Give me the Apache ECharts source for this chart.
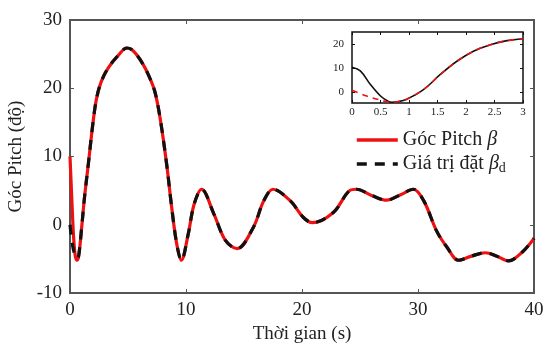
<!DOCTYPE html>
<html>
<head>
<meta charset="utf-8">
<script src="https://cdn.jsdelivr.net/npm/echarts@6/dist/echarts.min.js"></script>
<style>
  html, body { margin: 0; padding: 0; background: #fff; }
  #chart { width: 544px; height: 344px; }
</style>
</head>
<body>
<div id="chart"></div>
<script>
// main plot: time (s) and pitch (deg)
const pitchStart = [[0, 10], [0.15, 4], [0.3, -1.5], [0.45, -4.5], [0.6, -5.2], [0.75, -4.6]];
const setpointStart = [[0, 0], [0.15, -2.2], [0.3, -3.7], [0.45, -4.5], [0.6, -4.9], [0.75, -4.5]];
const pitchTail = [
  [1.0, -0.5], [1.25, 4.0], [1.58, 8.9], [2.0, 15.2], [2.3, 18.6], [2.7, 21.0],
  [3.3, 23.0], [4.2, 24.9], [4.9, 25.9], [5.3, 25.7], [5.75, 24.9], [6.3, 23.5],
  [6.75, 22.0], [7.3, 19.6], [7.76, 15.7], [8.33, 8.9], [8.77, 2.5], [9.2, -2.8],
  [9.6, -5.2], [10.2, -1.3], [10.7, 3.0], [11.35, 5.2], [12.4, 1.6], [13.4, -2.3],
  [14.4, -3.5], [15.8, -0.4], [16.7, 3.5], [17.5, 5.2], [19.0, 3.5], [20.1, 1.1],
  [20.9, 0.3], [22.7, 1.8], [24.1, 5.0], [24.7, 5.2], [26.0, 4.3], [27.3, 3.6],
  [28.5, 4.4], [29.6, 5.2], [30.5, 3.5], [31.6, -0.9], [32.5, -3.3], [33.5, -5.2],
  [34.6, -4.6], [35.8, -4.1], [36.8, -4.6], [37.8, -5.3], [39.0, -4.0], [40.0, -2.0]
];

// inset: zoom on 0..3 s
const insetPitch = [
  [0, 10.3], [0.15, 8.7], [0.32, 3.2], [0.5, -1.7], [0.64, -4.0], [0.7, -4.3],
  [0.8, -4.1], [0.96, -3.0], [1.26, 1.1], [1.55, 7.3], [1.84, 12.8], [2.13, 17.0],
  [2.43, 19.7], [2.72, 21.4], [3.0, 22.2]
];
const insetSetpoint = [
  [0, 0.7], [0.26, -1.7], [0.5, -3.4], [0.64, -4.2], [0.7, -4.3],
  [0.8, -4.1], [0.96, -3.0], [1.26, 1.1], [1.55, 7.3], [1.84, 12.8], [2.13, 17.0],
  [2.43, 19.7], [2.72, 21.4], [3.0, 22.2]
];
const insetYTicks = [0, 10, 20];

const pitchData = pitchStart.concat(pitchTail);
const setpointData = setpointStart.concat(pitchTail);

const FONT = '"Liberation Serif", "DejaVu Serif", serif';
const frame = '#555';

const chart = echarts.init(document.getElementById('chart'), null, { renderer: 'canvas' });

function sideAxis(grid, pos, extra) {
  return Object.assign({
    gridIndex: grid,
    position: pos,
    type: 'value',
    axisLine: { show: false, onZero: false },
    axisTick: { show: true, inside: true, length: 4, lineStyle: { color: frame, width: 1 } },
    axisLabel: { show: false },
    splitLine: { show: false },
  }, extra);
}

chart.setOption({
  animation: false,
  textStyle: { fontFamily: FONT },
  grid: [
    { left: 70, right: 10, top: 20, bottom: 51, outerBoundsMode: 'none', containLabel: false,
      show: true, borderColor: frame, borderWidth: 2, z: 1 },
    { left: 352, right: 21, top: 32, bottom: 241, outerBoundsMode: 'none', containLabel: false,
      show: true, borderColor: '#111', borderWidth: 1.5, backgroundColor: '#fff', z: 5 },
  ],
  xAxis: [
    {
      gridIndex: 0, type: 'value', min: 0, max: 40, interval: 10,
      name: 'Thời gian (s)', nameLocation: 'middle', nameGap: 32,
      nameTextStyle: { fontFamily: FONT, fontSize: 19, color: '#222' },
      axisLine: { show: false, onZero: false },
      axisTick: { inside: true, length: 4, lineStyle: { color: frame } },
      axisLabel: { fontFamily: FONT, fontSize: 19, color: '#222', margin: 8 },
      splitLine: { show: false },
    },
    sideAxis(0, 'top', { min: 0, max: 40, interval: 10 }),
    {
      gridIndex: 1, type: 'value', min: 0, max: 3, interval: 0.5,
      axisLine: { show: false, onZero: false },
      axisTick: { inside: true, length: 3, lineStyle: { color: '#111' } },
      axisLabel: { fontFamily: FONT, fontSize: 11, color: '#222', margin: 4 },
      splitLine: { show: false },
      z: 6,
    },
    sideAxis(1, 'top', { min: 0, max: 3, interval: 0.5, z: 6,
      axisTick: { show: true, inside: true, length: 3, lineStyle: { color: '#111' } } }),
  ],
  yAxis: [
    {
      gridIndex: 0, type: 'value', min: -10, max: 30, interval: 10,
      name: 'Góc Pitch (độ)', nameLocation: 'middle', nameGap: 40,
      nameTextStyle: { fontFamily: FONT, fontSize: 19, color: '#222' },
      axisLine: { show: false, onZero: false },
      axisTick: { inside: true, length: 4, lineStyle: { color: frame } },
      axisLabel: { fontFamily: FONT, fontSize: 19, color: '#222', margin: 8 },
      splitLine: { show: false },
    },
    sideAxis(0, 'right', { min: -10, max: 30, interval: 10 }),
    {
      gridIndex: 1, type: 'value', min: -4.6, max: 25,
      axisLine: { show: false, onZero: false },
      axisTick: { inside: true, length: 3, customValues: insetYTicks, lineStyle: { color: '#111' } },
      axisLabel: { fontFamily: FONT, fontSize: 11, color: '#222', margin: 8, customValues: insetYTicks },
      splitLine: { show: false },
      z: 6,
    },
    sideAxis(1, 'right', { min: -4.6, max: 25, z: 6,
      axisTick: { show: true, inside: true, length: 3, customValues: insetYTicks, lineStyle: { color: '#111' } } }),
  ],
  legend: {
    orient: 'vertical',
    left: 350, top: 125,
    itemWidth: 41, itemHeight: 4, itemGap: 4,
    data: ['Góc Pitch β', 'Giá trị đặt βd'],
    itemStyle: { opacity: 0 },
    lineStyle: { width: 3.6 },
    formatter: function (name) {
      if (name === 'Góc Pitch β') return 'Góc Pitch {b|β}';
      return 'Giá trị đặt {b|β}{s|d}';
    },
    textStyle: {
      fontFamily: FONT, fontSize: 20, color: '#222',
      rich: {
        b: { fontFamily: FONT, fontSize: 20, fontStyle: 'italic', color: '#222' },
        s: { fontFamily: FONT, fontSize: 14, color: '#222', verticalAlign: 'bottom', padding: [9, 0, 0, 0] },
      },
    },
    z: 7,
  },
  series: [
    {
      name: 'Góc Pitch β', type: 'line', xAxisIndex: 0, yAxisIndex: 0,
      data: pitchData, smooth: 0.35, showSymbol: false, symbol: 'none',
      lineStyle: { color: '#ee1111', width: 3.2 },
      itemStyle: { color: '#ee1111' },
      z: 2,
    },
    {
      name: 'Giá trị đặt βd', type: 'line', xAxisIndex: 0, yAxisIndex: 0,
      data: setpointData, smooth: 0.35, showSymbol: false, symbol: 'none',
      lineStyle: { color: '#111', width: 3.2, type: [10, 8] },
      itemStyle: { color: '#111' },
      z: 3,
    },
    {
      name: 'inset pitch', type: 'line', xAxisIndex: 2, yAxisIndex: 2,
      data: insetPitch, smooth: 0.35, showSymbol: false, symbol: 'none',
      lineStyle: { color: '#111', width: 1.6 },
      z: 6,
    },
    {
      name: 'inset setpoint', type: 'line', xAxisIndex: 2, yAxisIndex: 2,
      data: insetSetpoint, smooth: 0.35, showSymbol: false, symbol: 'none',
      lineStyle: { color: '#ee1111', width: 1.6, type: [6, 5] },
      z: 7,
    },
  ],
});
</script>
</body>
</html>
